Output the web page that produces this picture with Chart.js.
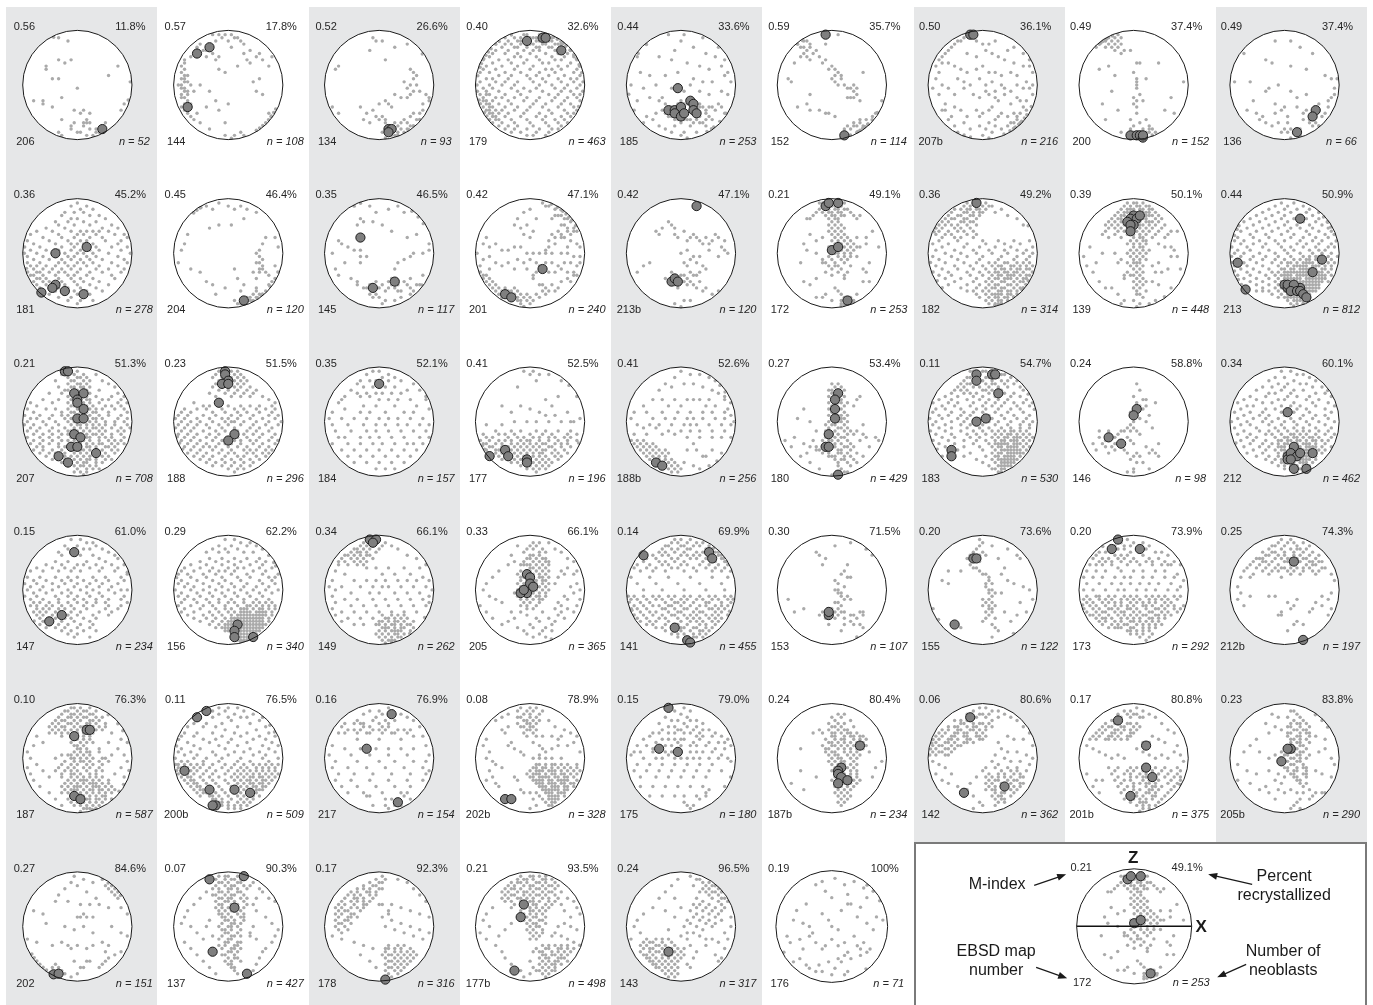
<!DOCTYPE html>
<html>
<head>
<meta charset="utf-8">
<title>Neoblast c-axis stereonets</title>
<script src="https://cdn.jsdelivr.net/npm/chart.js@4.4.1/dist/chart.umd.min.js"></script>
<style>
    body { margin: 0; background: #fff; }
    #page { position: relative; width: 1373px; height: 1005px; overflow: hidden; background: #fff; }
    .stripe { position: absolute; top: 7px; bottom: 0; width: 151px; background: #e6e7e8; }
    #legend-box { position: absolute; left: 914px; top: 842px; width: 453px; height: 175px; border: 2px solid #7a7a7a; background: #fff; box-sizing: border-box; }
    canvas { position: absolute; }
</style>
</head>
<body>
<div id="page"><div id="legend-box"></div></div>
<script>
// EBSD map number, M-index, percent recrystallized and neoblast count, in reading order
const mapNumbers = ["206", "144", "134", "179", "185", "152", "207b", "200", "136",
    "181", "204", "145", "201", "213b", "172", "182", "139", "213",
    "207", "188", "184", "177", "188b", "180", "183", "146", "212",
    "147", "156", "149", "205", "141", "153", "155", "173", "212b",
    "187", "200b", "217", "202b", "175", "187b", "142", "201b", "205b",
    "202", "137", "178", "177b", "143", "176"];
const mIndex = [0.56, 0.57, 0.52, 0.40, 0.44, 0.59, 0.50, 0.49, 0.49,
    0.36, 0.45, 0.35, 0.42, 0.42, 0.21, 0.36, 0.39, 0.44,
    0.21, 0.23, 0.35, 0.41, 0.41, 0.27, 0.11, 0.24, 0.34,
    0.15, 0.29, 0.34, 0.33, 0.14, 0.30, 0.20, 0.20, 0.25,
    0.10, 0.11, 0.16, 0.08, 0.15, 0.24, 0.06, 0.17, 0.23,
    0.27, 0.07, 0.17, 0.21, 0.24, 0.19];
const percentRecryst = [11.8, 17.8, 26.6, 32.6, 33.6, 35.7, 36.1, 37.4, 37.4,
    45.2, 46.4, 46.5, 47.1, 47.1, 49.1, 49.2, 50.1, 50.9,
    51.3, 51.5, 52.1, 52.5, 52.6, 53.4, 54.7, 58.8, 60.1,
    61.0, 62.2, 66.1, 66.1, 69.9, 71.5, 73.6, 73.9, 74.3,
    76.3, 76.5, 76.9, 78.9, 79.0, 80.4, 80.6, 80.8, 83.8,
    84.6, 90.3, 92.3, 93.5, 96.5, 100];
const neoblasts = [52, 108, 93, 463, 253, 114, 216, 152, 66,
    278, 120, 117, 240, 120, 253, 314, 448, 812,
    708, 296, 157, 196, 256, 429, 530, 98, 462,
    234, 340, 262, 365, 455, 107, 122, 292, 197,
    587, 509, 154, 328, 180, 234, 362, 375, 290,
    151, 427, 316, 498, 317, 71];

// point positions: two base-36 digits per point (x then y, 0 = left/top rim, h = centre)
const grayPoints = [
    "91 b2 e3 7b 7c b9 da f9 ub re 9f bf yg hi cl 3m 6m 6n 9o wn ym vp gp iq jp lq cs gt ks lt kt fu fv iw ju lv mx nv nw ow qt bw cx kx hw jt",
    "c1 e1 g1 i1 j2 f2 h3 k2 l3 d3 m4 i5 75 84 96 a6 67 58 a8 c7 d9 e8 m7 o6 n9 q8 r7 s9 oa kb ec gd 39 3a 2b 3c 2d 3e 4e 2f 3g 4g 1h 2h 3i 2i 4j 3j 2k 4k 3l 2l 4m 3n 5n 2o 3p 4q 5r 6s 3f 5h 6j 8h bj dm ao ep 7q 8t bv gt hn xp wq vr ws uu tv sw rx uq vt jx lw mx gx iy rf pg qj sk v8 ub",
    "f2 g3 i3 e6 j9 m5 q4 v7 4b 3c rc sd te sf pg rh th qi sj uj rk ol ql mk wk xl vn xm jm lo kn hn fp bo dq cs et gr hs ir js jt ku mt nu ot ps qt ru su mv nw ov pw qv rw nx mx jv iw lx jy sq rr ts uq vp us 2o 4q",
    "b1 f1 g1 k1 l1 p1 92 c2 e2 h2 i2 m2 o2 q2 t2 73 a3 d3 f3 j3 k3 n3 r3 s3 u3 64 94 b4 e4 h4 l4 m4 p4 q4 t4 w4 45 85 c5 d5 g5 j5 n5 o5 s5 v5 36 66 a6 f6 i6 k6 p6 r6 u6 x6 27 57 97 d7 h7 m7 q7 t7 w7 18 48 c8 e8 j8 o8 s8 v8 x8 29 79 a9 g9 k9 p9 r9 w9 1a 5a ba fa la na ua ya 0b 3b 8b db ib qb tb xb 2c 6c cc hc mc oc rc wc 1d 4d 9d ed kd pd vd yd 0e 7e be ge je ne se xe 3f 5f af hf lf qf uf wf 1g 6g 9g dg ig mg rg vg yg 0h 4h 8h ch kh oh th xh 2i 5i bi fi ji pi si wi 0j 3j 7j dj hj lj rj uj yj 1k 4k 9k ek nk qk vk xk 2l 6l 8l cl gl kl pl tl wl 0m 3m 5m am fm jm om sm xm 1n 4n 7n bn in mn rn un 2o 5o 9o do ho lo qo vo xo 3p 6p 8p cp gp np sp wp 2q 4q 7q aq fq kq oq tq vq 3r 5r 9r er jr mr rr ur 4s 6s bs gs ls ps ss 5t 8t ct ht mt qt tt 7u au du iu nu ru 9v cv gv kv ov qv bw ew jw nw gx ix mx e3 g2 j2 l3 n2 i4 k5 o3 r4 3k 2m 4o 3n 5q 6r 4p 7s",
    "d1 i1 h3 o2 t5 53 26 38 f6 l5 p7 s8 v9 a8 e9 ja nb qc ub wd 4d 7e ce gd lf og rg ve xg 1h 5i 9h ei ij kh nj qk uj wk 0k 3m 7l bl am cn eo gn hm jn in ko mo nn oo pp qo ro sp tn uo vq bp cq dr er gs is js ks mr nr ps qr rs fs ht lt nt ot 9q 8s 6r au cv fu ku pu sv ew iw mw qx hx ty xr vu 4u 2p jy lo ip hq kp ms no pq",
    "72 83 93 a4 64 75 85 96 a5 c6 b7 87 98 78 a9 5a d8 f9 ea hb ic gc jd ie ke hf ig kf lh mi jh ni oj oh pk nl ml qm ol pi rd 3f 4g ak 9n 6o ap fq ir ur vq sv tu qt ru pu nv ou ot pw qx rv sw tw uv vw rx mu lv nx qs ss vt ky ly f4 j1 gq dp wq xm",
    "b2 a3 93 84 75 66 57 48 39 4a 6a 2b 3d 2f 4h 1i 3k 5n 4p 7r 6s 8u 9w bx dy f3 h4 j4 l3 p6 r5 u7 w9 i6 k7 f8 c7 m8 o9 ra ub wb xd 8b ac cd fc hb jd ld ne qd se vg xh 9f bg dh gf ih kg lj nh oi qj sh ui wi xk 6i 8k bi ek gl ij jk ll mm ok qn sl tm vm xo 5p 8o ap cr fp gr hq jp ko ls mr nq pr rq ss tq uo wr vp bt dv gu iv jt lu nv pu qw rt sv tu uu vs tx rv qt sr ut ox kw hx jy",
    "82 92 a1 b2 c1 d2 72 63 73 83 a3 b4 c3 94 85 a5 b6 c5 d4 64 55 e6 g6 d7 ia 9b 6c hd be lf if ig ih ii jk hl im km hn io 7n aj cp rp tl uq xg pa ja 8s hu iq ls lw mu kv jw lx mw nx ow hw iw kw gv mv nv jt gs dw",
    "e3 j3 m5 q7 47 b9 da jb oc ue wf 1g 6g fh ok ir ll jj 5p 8q 9s bt du ft hv it jv kw mx ns pt rt qu su tr uq vo wl xi yf xk vm sn bj ci eq gp 7m ar en ho lo nq ps op gw iw jy mv",
    "h1 k2 f2 i3 m3 d4 g4 j4 o5 c5 l5 q6 f6 h6 n7 a7 e7 j7 s8 b8 g8 l8 p9 u9 79 d9 ia ma ra 4a 9a fa ka oa wb 2b bb hb jb nb tb 6c cc gc lc pc xc 1d 8d ed id kd qd vd 3e ae fe he je me ue 0f 5f cf gf kf nf sf xf 2g 7g bg fg ig lg og vg 0h 4h 9h dh hh jh mh rh yh 1i 6i ai ei gi ki ni ui 3j 8j cj fj ij lj pj wj 1k 5k bk dk hk jk mk sk xk 2l 4l 7l al el gl kl ol ul 0m 3m 6m 9m cm fm im nm rm wm 1n 4n 5n 8n bn dn hn ln pn vn 2o 3o 6o ao eo go ko so 4p 5p 7p bp fp ip mp tp 3q 6q 8q cq gq jq oq 4r 7r 9r dr hr lr rr 5s 8s bs es is ns 6t at ct gt kt pt 8u du hu lu bv fv jv ew iw mw hx",
    "42 53 62 71 82 a2 c3 e1 h2 j3 l2 n3 q4 m6 i8 e8 b9 4b 3e 2g 1k 5m 8n aq cr gs du jm kp mr lt nv ov pu qt qs ru su tt ur vs uo vq wp xn wl tn sm rm sl rk qk ri qh rg se tc wc xf sj pn rn qp nw lx kx jw pw ow px qv rw sv",
    "92 b1 e2 g4 k3 n2 p4 s3 u5 w7 b6 c7 a8 f7 i8 la qc tb xe 4d 5e 2h 7f 9g bg bi di bk 6k 3m 4o 8p aq ar cs ds er fr gq hs ir jt ks kq lp lr ms nr nt ot pq qr rp rs st tr ur vo ws hv jw ix mw ov ru gu eu fv mm nk pj ri sh vh xg",
    "l1 m2 n2 o1 p3 q2 r3 s3 t4 q5 r5 s6 t6 u7 v6 u5 p5 o6 r8 s8 t9 v9 w8 wa va ub ta rb sc qa ob pe ud we xf tf rc pc nd mg nf h3 f4 d6 c8 j6 g8 e9 ia fb hc 3c 2e 4f 6e 8g ag cf ef gh ih kh mh oh rh th vi xi xk 2j 4i 0h 6k ak dj fk hj jk mk ok ql sk uk wl 1l 4m 8l cm gm io jn kl nn pn rm tn vn wo 1n 2o 3o 2p 3q 4p 5q 4r 5s 6r 6t 7s 8t 7u 8v 9s at au bt cu cs dt dv eu ew fv gw hv gu dw ex fy hx iw ju kv lt mu nt kr lr ms or pt qs rq tp uq vo ip",
    "9a ab b9 d7 e8 f9 fb gc ia jd kc lb mc nd oe pc qe rd sb tc uf vd vg wh ti qg ni jg hh li mk kj jl ik ol pm nn lo kn mo jp io ho en dq cp ep fr gs hq iq jr kq lr nq ms ps ru uu 5l 7k 3n iw fx hy kw ot",
    "d1 e1 h1 i2 k1 l1 e2 h2 k2 d3 f3 g3 i3 j3 l3 e4 g4 h4 j4 k4 m3 f5 h5 i5 k5 g6 i6 j6 l5 c4 b5 a6 96 n4 o5 p6 q5 h7 j7 g8 i8 k8 h9 j9 l9 ga ia ka hb jb lb ic kc mc hd jd ld nd ie ke me oe gf if lf nf pf kg mg og ih jh lh nh gi ji li ni hj kj mj ik lk fk gl jl nl il hm km ec cd 8e ab 9g ch 7k ek fn jn mn rm tk sn qf se pc sc ua wf pi ej lo lp 8q ar cp rq tq ho is jt fu hw cv ev ox pu kx lw lx nw nx mx ow ly ky mv kw lv nv ku",
    "c1 e1 g1 i1 b2 d2 f2 h2 j2 a3 c3 d3 f3 g3 i3 83 b4 c4 e4 g4 h4 74 65 95 a5 d5 e5 g5 56 76 86 b6 c6 f6 47 67 a7 b7 d7 e7 38 58 78 98 c8 f8 29 49 89 a9 d9 1a 3a 6a 9a ba ea 2b 5b 7b cb fb 4c 8c ac ec k2 l4 n3 p5 s6 u8 w8 3d 9d hd md rd wd 1e 6e ce ie oe te xf 4f bf gf lf qf vg 2g 8g eg jg og sg xh 5h ah fh kh ph uh 1i 7i ci hi ni si wi 3j 9j gj mj rj vj 0k 5k bk fk jk lk ok pk sk uk wk 2l 8l dl hl kl ml nl ql rl tl vl xl 4m 9m em im lm nm om qm sm tm vm wm 1n 6n cn gn jn ln mn on pn rn sn un xn 3o 7o do ho ko mo no po qo ro to vo wo 5p ap fp jp lp mp op pp qp sp up vp 2q 8q eq iq kq nq oq rq tq uq wq 6r cr gr jr lr mr pr qr sr vr 4s as fs is ks ls ns os rs ts us ct et ht jt mt nt pt qt st ut fu iu ku lu mu nu pu qu su gv jv lv mv ov pv rv iw kw mw nw pw jx lx nx mx ly",
    "f1 h1 i1 k1 e2 g2 i2 j2 l2 m2 d3 f3 g3 h3 j3 k3 m3 n3 c4 e4 f4 g4 i4 k4 l4 m4 o4 b5 d5 e5 g5 i5 k5 l5 m5 n5 p5 a6 c6 d6 f6 h6 j6 k6 l6 o6 q6 97 b7 d7 e7 g7 i7 j7 l7 m7 n7 p7 88 a8 c8 e8 f8 i8 j8 k8 m8 o8 r8 99 b9 d9 f9 h9 j9 l9 n9 q9 8a ca ea ga ia ka ma pa ta 7b bb fb hb jb lb ob sb va 9c dc hc jc kc nc gd id kd ld fe he je le hf jf kf gg ig kg mg fh hh jh lh gi ii ki hj jj lj fk hk jk ik gl il kl hm jm fn in kn ho jo go ip kp hq jq lq ir kr hs js it lt ju iu kv hw jx iy 3f 1i 5k 7h bh dj ck 4n 6q 8s as cu eo ep 2l rf ug vi ti pk nl sm wm qn on nq pr ts rv ow mx ew dx pe rc tf",
    "g1 k1 e2 i2 n2 c3 h3 l3 p3 a4 f4 j4 o4 s4 85 d5 h5 m5 q5 u5 66 b6 g6 k6 o6 s6 w6 47 97 e7 i7 n7 r7 v7 28 78 c8 h8 l8 p8 t8 x8 19 59 a9 f9 j9 m9 q9 v9 3a 8a da ia oa sa wa 0b 6b bb gb kb pb ub xb 2c 7c cc jc nc rc vc 1d 4d 9d ed hd md qd td yd 3e 7e be fe le oe se we 0f 5f af gf jf nf rf vf xf 2g 6g cg hg kg pg sg ug 1h 4h 9h eh ih mh qh th wh 0i 3i 7i bi fi ji ni pi ri si vi yi 2j 6j aj ej hj kj mj oj pj rj sj tj wj 0k 4k 8k dk gk ik jk lk nk ok pk qk sk tk vk xk 1l 5l al fl il kl ll ml nl ol ql rl sl ul wl 3m 7m cm gm hm jm km mm nm om pm qm rm tm um wm 0n 5n 9n dn fn hn in jn kn ln mn nn on pn qn rn sn tn vn 2o 6o bo eo go ho io jo lo mo no oo po qo ro so to uo wo 4p 8p cp fp hp ip jp kp lp mp op pp qp rp sp tp up 1q 6q aq eq gq iq jq kq lq mq nq oq pq qq rq sq tq vq 3r 8r cr fr hr jr kr lr mr nr or pr qr rr sr 5s as es gs is js ks ls ms ns os ps qs rs ss 8t ct ft ht jt kt lt mt nt ot pt qt rt at du gu iu ju ku lu mu nu ou pu fv hv iv jv kv lv mv nv ov pv iw kw lw mw nw ow jx lx nx ky",
    "f1 h1 g2 j2 e3 h3 i3 k3 f4 g4 j4 l4 e5 h5 i5 k5 f6 g6 i6 j6 l6 e7 h7 j7 k7 f8 g8 i8 l8 e9 h9 j9 k9 fa ga ia ka la eb hb jb lb fc gc ic kc mc ed hd id jd ld fe ge ie ke me ef hf jf lf fg gg ig kg mg eh gh ih jh lh fi hi ii ki mi dj gj ij kj mj ek fk hk jk lk el gl il kl ml fm hm im km lm en gn in jn ln fo go io ko mo ep hp ip kp lp fq gq iq jq lq gr ir kr mr fs hs js ls gt it kt lt hu ju ku iv jv kw ix c2 n2 a4 p4 r5 b6 t6 d7 o7 u8 88 c8 n9 s9 w9 6a ba pa ra va 2b 9b ob ub xb 4c qc sc vc 1d 7d ad nd pd td wd 3e ce ne re xe 0f 5f 9f cf of rf vf 2g 4g 8g dg ng pg ug xg 1h 6h ah nh qh th wh 0i 3i 7i bi oi qi ti xi 2j 5j 9j nj pj sj vj yj 1k 4k 8k bk ok qk uk wk 3l 6l 9l cl nl pl sl vl 1m 5m 8m bm om qm sm wm 3n 6n 9n cn on rn tn vn 2o 5o 8o bo oo po so uo wo 4p 6p bp dp np qp rp tp 3q 6q 9q cq nq pq sq uq 5r 8r ar dr or qr tr 7s bs ds ns ps rs 9t dt et nt qt st cu fu nu pu ev gv lv nv hw mw ow gx kx jy",
    "e1 i1 k1 d2 h2 j2 l2 c3 f3 i3 k3 m3 e4 h4 j4 l4 n4 d5 g5 i5 k5 m5 c6 f6 j6 l6 o6 e7 h7 k7 n7 q7 b8 g8 j8 m8 p8 d9 i9 l9 o9 s9 ua wb 6b 9c bc ec hc lc oc rc vc 3d 7d ad fd jd md qd td wd 2e 5e ce ge ke ne re ve 1f 4f 9f df if lf pf uf xf 0g 3g 7g bg fg hg kg og sg wg 2h 5h 8h ch gh ih jh mh qh uh yh 1i 4i 7i ai ei hi li pi ti xi 0j 3j 6j bj fj jj oj rj vj 2k 5k 9k dk gk kk nk qk uk 1l 4l 7l bl el il ml pl sl wl 0m 3m 6m am dm hm km nm rm vm 2n 5n 8n cn fn jn ln on qn un xn 1o 4o 7o ao eo go io lo po so wo 3p 6p 9p bp dp hp kp np rp up 2q 5q 8q cq fq iq mq oq qq tq vq 4r 7r ar er hr jr nr pr sr ur 6s 9s cs gs ks ms qs ts 8t bt ft it lt ot rt au du gu ju mu pu cv fv iv lv ov hw kw mw jx",
    "f1 h1 k2 d2 i3 m3 b4 e4 g4 k4 o4 s5 a5 c6 f6 h6 j6 m6 q7 u7 87 a8 d8 g8 i8 l8 o8 w9 69 b9 e9 ka na ra 5a ha wa 4b cc gc mc tc xd 2e 6d be ee je pe se 1g 5g 9g dg hg kg ng rg vg 2i 7i ci gi ji ni qi ui xi 3k 8k dk gk kk ok sk wk 4m 6m bm em hm lm pm um xm 2o 7o bo fo io mo qo so vo 5q 9q dq hq lq pq tq 7s bs fs js ns rs 9u du hu lu pu gw jw mw",
    "f1 i1 k2 n2 h2 j4 r4 u5 q9 ma oc te w9 d6 8c be ec hd ke mf pf xg vh 3i 8i ch gh jh nh rh uh 6k bk ek jk mk qk uk 2l 7l 9l cl hl ll ol tl wl 3m 5m am dm fm im km nm pm sm um 1n 4n 7n 9n bn en gn hn kn nn qn tn wn 2o 3o 6o 8o bo do fo ho jo lo mo po ro to xo 1p 4p 5p 8p ap cp ep gp ip kp np op rp up 2q 3q 6q 7q 9q bq dq fq hq jq lq mq pq sq 3r 4r 6r 8r ar cr er gr ir kr lr or qr tr 5s 7s 9s bs ds fs gs is ks ms ps rs 8t at ct et gt ht jt lt nt qt bu du fu gu iu ku mu ou ev hv jv lv nv gw iw kw mw jx",
    "h1 k2 n2 q3 s4 u5 w7 f3 c5 a7 e6 i5 l5 o6 r7 t8 v9 8a ba fa ja la na qa va xb 5c dc hc pc sc wd 2e 6e be ge ke oe re ve xf 1g 8g cg fg jg lg og sg vg yh 3i 7i ai ei ii ki mi qi ui xi 5j 9j dk hk kk nk rk vk 2l 6l bl fl jm nm rm um xm 1n 3n 5n 2o 4o 6o 8o 3p 5p 7p 9p 4q 6q 8q aq cq 5r 7r 9r br dr 6s 8s as cs 7t at ct et 8u bu du fu cv ev gv dw fw hw ex gx jq lo mq os ps rq ur tu qv lv iu nw",
    "h5 j5 i6 k6 g7 h7 j7 l7 h8 i8 k8 g9 j9 l9 ha ia ka gb jb kb hc ic lc gd jd kd he ie le gf jf kf mf hg ig kg lg gh jh kh mh fi hi ii li gj jj kj mj fk gk ik lk gl hl jl ml fm im km lm en gn hn jn mn fo go io ko no ep hp ip lp mp fq gq jq kq nq gr jr kr mr hs is ls ns it kt lt ju mu jv kw gs er dq cp bn ap 9r 8o cq 8d 6g ah ck 5m 2n 4p 7s au dw mb oc pa q9 ri pk rl ol qn sm vm wn tp op pr rs ot pu nv mx hy ky lx nk",
    "d1 e1 h1 i1 l1 f2 g2 j2 k2 n2 o2 c3 d3 f3 i3 j3 l3 m3 q3 b4 e4 g4 h4 k4 n4 p4 s4 a5 c5 d5 f5 i5 k5 l5 o5 r5 96 b6 e6 g6 j6 m6 p6 t6 87 a7 c7 h7 i7 k7 n7 u7 78 b8 d8 f8 j8 o8 r8 w8 59 99 e9 h9 l9 q9 t9 3a 7a ca ga ja ma pa va 1b 6b 9b eb ib lb ob rb ub xb 4c 8c dc hc kc nc sc wc 2d 5d ad fd id md qd td yd 1e 7e be ee he le pe ue 3f 6f af df jf nf rf wf 0g 4g 9g cg gg kg og sg vg 2h 7h bh fh jh mh qh uh xh 1i 5i ai di hi li pi ti wi 3j 7j cj gj jj nj qj tj wj 0k 5k ak ek hk kk mk ok qk rk tk vk 2l 7l cl fl il ll nl pl ql sl ul wl 4m 8m dm gm km mm om pm rm sm tm vm xm 1n 6n bn fn in ln nn on qn rn sn un wn 3o 8o eo jo lo mo no oo po ro so to vo 5p bp gp kp mp np pp qp rp sp up wp 2q 9q hq lq nq oq pq qq rq sq tq vq 6r dr kr mr nr pr qr rr sr tr ur 4s bs is ls ms os ps qs rs ts ft kt mt nt ot pt qt rt st hu lu nu ou pu qu ru jv mv nv ov pv qv kw lw nw ow mx nx",
    "i5 j7 h9 ka ib jc kd lc ie ge if jg hh gi hj fj gk ik jl ek fm gn ho dk cl bm 8n 6m 7o ap bo co dp eq fr bq 8p 9r js ku hs gt ir lp mr nq or po ps lh nj mf ob la 9k 4o 5q 6k fx hw hx iu mw",
    "g1 j1 l2 n2 e3 h3 p3 c4 k4 r4 f5 i5 m5 o5 a6 d6 h6 q6 t6 87 g7 k7 n7 v7 c8 e8 j8 r8 u8 69 b9 i9 l9 p9 w9 4a 8a fa ha oa sa 2b ab db kb qb vb 5c 7c gc jc mc rc xc 3d bd ed ld od ud 1e 6e ae ge ke pe we 4f 9f cf hf nf rf uf 2g 7g bg fg jg mg qg vg 0h 5h ah dh hh kh oh sh xh 3i 6i ci gi li pi ui 1j 8j ej hj kj nj rj wj 4k 9k ck fk ik lk nk pk sk vk 2l 6l bl dl gl jl kl ml ol rl ul xl 5m 8m em hm im km lm nm pm qm sm wm 3n 7n bn fn gn in jn ln mn on qn rn tn vn 1o 6o ao do fo ho io ko lo no oo po ro uo 4p 9p cp fp gp hp jp lp mp op pp qp rp tp wp 7q bq eq gq hq jq kq lq nq oq pq rq sq uq 5r ar fr hr jr kr lr nr or pr qr tr 8s cs fs hs is js ks ms ns os ps rs bt et gt ht it kt lt mt nt ot pt rt du gu hu iu ku mu nu ou qu fv hv jv lv nv ov pv hw jw lw mw ow kx lx nx",
    "f1 i1 k2 m2 d3 h3 n3 p4 e4 j4 l4 r5 b5 g5 t6 c6 i6 m6 o7 u7 a8 e8 k8 q8 w9 79 c9 h9 j9 n9 s9 4a 9a da ga la pa ua yb 2b 6b bb fb ib ob tb xc 1d 5d ad ed hd md qd vd 3e 7e ce fe je ne re we 0f 4f 9f df hf lf pf uf 2g 6g bg gg kg og sg xh 1h 5h 9h eh ih mh rh vh 3i 7i ci fi ki oi ti 0j 4j aj ej hj lj pj wj 2k 6k bk gk jk nk rk vk 3l 5l 8l bl el hl kl nl ql xl 2m 4m 7m 9m cm fm jm mm rm vm 4n 6n 8n bn dn gn kn qn un 3o 5o 7o ao co fo io oo so 4p 6p 9p bp ep hp mp rp 5q 8q aq dq fq jq nq 3r 6r 9r cr gr lr 5s 8s bs es is ms 7t at dt ht lt cu fu ju nu ev hv gw lw",
    "g1 j1 l2 o2 e3 i3 n3 q3 c4 g4 k4 s4 a5 e5 h5 m5 p5 u6 b7 f7 j7 n7 r7 w8 88 d8 h8 l8 q8 t8 x9 59 a9 f9 j9 o9 s9 3a 8a ca ha ka ma ra va 2b 6b bb eb gb jb pb tb xc 1c 4c 9c dc ic nc sc wd 0d 5d ad fd kd od ud 2e 7e ce ge le re ve 1f 4f 9f ef if nf sf wf 3g 6g bg fg jg mg qg ug 0h 5h 9h dh hh lh ph th xh 2i 7i bi fi ji ni ri vi 1j 4j 8j cj gj kj oj sj 3k 6k ak ek ik mk qk uk 2l 7l bl el hl jl ml pl rl tl vl 1m 5m 9m cm gm km nm om qm sm um wm 3n 8n dn gn in ln mn nn pn rn sn un wn 2o 6o bo eo ho jo lo mo no oo qo ro so to vo 4p 9p cp fp ip kp lp mp np op pp qp rp sp tp vp 6q aq dq gq iq jq kq lq mq nq oq pq qq rq sq uq 8r cr fr hr ir jr kr lr mr nr or pr qr rr sr ur bs es gs hs is js ks ls ms ns os ps qs rs ss ts dt ft gt ht it jt kt lt mt nt ot pt qt rt st gu hu iu ju ku lu mu nu ou pu qu ru iv jv kv lv mv nv ov pv qv jw kw lw mw nw ow pw kx lx mx nx ox ly my",
    "c2 e2 g2 h1 b3 d3 f3 i3 a4 94 c4 e4 h4 85 a5 b5 d5 g5 66 76 96 b6 d6 e6 57 87 a7 c7 f7 48 68 98 b8 d8 49 79 a9 c9 j2 l3 n4 q6 t7 w9 ua pa ka ga da 3b 6c ic mc rc vd xe 2e 9e de ge je ne qe te 1g 5g bg fg ig kg og sg wg yh 3h 8i ei hi mi qi ui xj 2j 6k ak fk jk nk rk vk xl 3l 8m cm gm km om sm wm 2n 5o 9o do ho lo po to 3p 7q bq fq wq 5r 9s cs ip lp np pp jq kq mq oq qq hr ir kr mr nr pr sr gs hs js ls ms os qs rs it jt kt mt ot pt st hu ju lu mu nu ou ru gv iv kv mv nv pv hw jw lw nw ow ix kx mx lx jy ly ty",
    "i2 k2 h3 j3 l4 g4 i4 k5 m5 f5 h6 i6 k6 m7 g7 h7 j7 l7 n8 f8 i8 k8 m8 e9 g9 h9 j9 l9 n9 f9 ha ia ka ma eb gb hb jb lb nb dc fc hc ic kc mc ed fd gd id kd ld nd ee ge he ie je le me df ff hf jf lf nf eg fg hg jg kg mg dh gh ih jh lh nh ci fi gi ii ki mi dj ej hj jj kj mj ek gk ik kk lk fl hl kl em gm jm gn in d3 n2 p4 r5 t7 v8 b6 c8 a9 7b 5d 3f 2h 4j 6k 8l 1m 3o 5q 8s ar bo cq eo gp hs it jq kr lo mt nq os pr qp ro sq tn vo wm xk vi tk rm pn ql sj ug wf xh rb qd pf ta vc sc wb ox gv iw kv mw ou dt fu lu",
    "f1 h1 k1 e2 g2 j2 m2 o2 c3 d3 h3 i3 l3 n3 q3 s3 b4 e4 g4 j4 k4 p4 r4 u4 a5 c5 f5 i5 m5 o5 s5 v5 86 b6 d6 h6 j6 l6 n6 q6 t6 w6 67 97 e7 g7 k7 m7 p7 r7 u7 x7 58 a8 c8 f8 i8 o8 s8 v8 39 79 b9 d9 h9 j9 n9 q9 t9 w9 2a 6a 9a ea ga la pa sa va 4b 8b cb ib mb rb ub xb 1d 7d dd kd rd wd 3f 9f gf nf uf 5h bh ih ph vh 0j 2j 5j 8j aj dj fj ij kj nj qj sj vj xj 1k 3k 6k 9k bk ek hk jk mk ok rk tk wk yk 0l 4l 7l cl fl gl il ll pl ql ul xl 2m 5m 8m am dm em hm km nm pm sm um wm 1n 3n 6n bn cn fn in jn mn qn rn tn vn 0o 4o 7o 9o do go ho lo no oo so uo xo 2p 5p 8p bp ep fp ip kp mp pp rp tp wp 3q 6q aq cq gq jq lq nq qq sq uq 4r 7r 9r dr hr kr mr or rr tr 6s 8s cs fs gs js ns ps ss 9t bt et ht it lt mt pt rt cu fu hu ku nu ou qu ev gv iv lv nv pv gw jw lw mw ow ix kx",
    "c5 d6 e9 f7 i3 n2 s4 v5 md m9 lb kc ie jf lg ki ji ih kj lk mj nk jl km il hn jn lo ko io ho gn fo eo dp fq hp iq jp lq np op qo rp ro pq nr os qs rt ls gs 8n 3k 5o ku pw nd jh",
    "g1 h2 g3 f4 e5 h5 d6 g6 i6 c7 g8 d9 fa ea gb hc 6b 4e 6f ic jd je kf if ig jh kh li ji kj hk jk kl il hm jm lm kn io jn ko jp lq iq hr ks at 2r lt mu kw rv qr sp vo tl xk wh ug rf pe nc p4 s6 m7 t7 k3 oa ab 1n ni oo",
    "d2 f1 h2 k2 m3 b3 e3 g3 i4 73 94 c4 e4 g5 j4 l4 o5 q5 s6 65 85 a5 b6 d6 f6 h7 k6 m7 p7 r8 u8 56 77 97 c7 e7 g8 i8 l8 n8 q9 t9 47 68 88 a8 d8 f9 j9 n9 s9 w9 39 59 79 a9 ca 2b 5b 8b db hb kb ob rb vc 1d 4d 7d bd ed gd kd nd rd ud xe 2f 6f af df gf jf mf pf tf wg 1h 4h 8h ch eh ih lh oh sh vh 2j 5j 6j 9j bj ej gj ij lj nj pj rj uj wj 1k 3k 6k 8k ak dk fk hk jk mk ok qk sk vk 2l 4l 7l 9l bl dl gl il kl ml ol rl tl 0m 3m 5m 8m bm dm fm hm km lm nm qm sm um xm 1n 4n 6n 9n an cn fn gn in ln on pn rn un wn 2o 5o 7o 8o bo do eo ho jo mo no qo so vo 3p 4p 6p 9p cp ep gp ip kp lp op pp rp tp 5q 7q 8q aq dq fq hq jq mq nq pq rq 6r 8r br dr gr hr jr lr nr pr 7s as cs es fs is ks ms os qs 9t bt dt gt ht kt mt ot ct fu gu iu ku mu gv iv kv nv jw mw lx",
    "f2 g1 j1 k2 n2 p3 d3 c4 e3 h3 i2 l3 m4 o4 q5 s6 a5 b6 d5 e5 g4 h5 j4 k5 l4 n5 p6 r7 t8 87 97 a7 c6 e7 f6 h6 i7 k6 m6 o7 q8 s8 78 a8 b8 d8 g7 i8 j7 l7 n7 p8 r9 69 99 c9 f9 h8 j9 m8 o9 q9 ua 5a 8a ba ea ga ha ja la na pa ta 4b 7c ab db fb ib kb nb qb sb 3d 6d cc gd jc mc rc wc xe 2g 3i 6j 2k cj ej 4m lk il jn km fp gp go po qn rl tm wn vp lr ns ks iu tj wi vk",
    "f1 g1 i1 l1 d2 e2 h2 j2 k2 n2 c3 f3 g3 i3 l3 m3 b4 e4 f4 h4 j4 k4 n4 p4 a5 c5 d5 g5 i5 l5 m5 o5 96 b6 e6 f6 h6 k6 l6 n6 q6 87 a7 c7 d7 g7 i7 j7 m7 o7 98 b8 d8 f8 h8 k8 n8 p8 89 a9 c9 e9 h9 j9 m9 ca fa ja la r3 u6 w8 s9 q7 vb xc 6c 3d 4a gb hb jb lb fc ic kc mc gd hd jd he ie ke gf if kf lf fg hg jg lg fh gh ih kh mh di gi ii ji li oi cj fj hj kj mj pj bk ek gk jk lk ok al dl fl hl kl nl pl cm fm gm im lm nm 1f 2h 4j 6l 8n ah cg eg of qh sg ue wg xi vk tm ri ph oe rc cn fn hn jn ln nn pn eo go io jo ko mo oo ro dp fp hp jp lp mp np pp rp cq eq gq hq iq kq mq nq oq qq sq dr fr gr hr jr lr mr or pr rr tr cs es gs is ks ms os qs ss ft ht it jt lt nt pt qt su eu gu iu ku lu nu ou qu fv hv jv lv nv pv gw iw kw mw ow jx lx nx kx iy my 3o 5q 8s au cw 2m 1k wn yl xq vs",
    "e1 h1 k1 c2 g2 m2 p3 a3 e3 j3 n4 s4 84 c4 h4 l4 r5 v6 66 a6 f6 i5 o6 t7 47 97 d7 g8 k7 q8 x8 39 79 c9 j9 n9 u9 2a 6a fa la ra wa 1b 9b db ib pb tb 4c bc hc nc vc 0d 6d ed kd sd xd 2e 8e ge oe ue 1f 5f cf jf mf rf wf 3g 7g dg hg pg tg 0h 6h ah fh lh sh xh 2i 4i 9i ei ki oi ui 0j 1j 3j 5j 7j 9j cj gj jj mj pj rj tj vj xj 1k 2k 4k 6k 8k bk fk ik lk nk qk sk uk wk 0l 2l 3l 5l 7l al dl hl kl ml ol ql sl ul wl 1m 3m 4m 6m 9m cm gm jm lm nm pm rm tm vm xm 2n 4n 5n 8n bn en in kn mn on pn rn sn un wn 3o 5o 6o 9o co go jo lo no oo qo so to vo 4p 6p 7p ap dp hp kp mp op pp rp sp up 5q 7q 8q bq eq iq lq nq pq qq sq tq 6r 8r 9r cr fr jr mr or qr rr sr 7s 9s as ds gs js ls ns ps qs 8t bt ct et ht kt mt ot pt rt cu du fu iu lu nu pu ev fv hv kv mv ov fw hw jw lw nw hx jx lx",
    "c3 e2 h2 i3 k1 o3 q4 s5 u7 a5 c6 f5 g4 j5 k6 m5 66 96 b6 c7 e7 h6 i7 k7 57 78 98 b8 d9 f8 h8 j8 l9 n8 p8 r8 49 69 a9 e9 i9 m9 q9 sa va ab hb ob wd 2d 6e be ge ke oe se 1g 8g eg kg qg xg 3i ai hi mi si wi 2k 7k dk jk pk vk xl 4m 9m fm lm rm wm 3o 8o eo ko qo vo 5q aq gq mq rq 7s cs is os dt et ju lu pt qs ru fw jw mw kx ow",
    "e1 h1 j1 d2 g2 i2 l2 f3 h3 k3 d4 e4 h4 j4 f5 g5 i5 k5 d6 g6 h6 j6 e7 f7 h7 i7 g8 h8 j8 f9 i9 ga ja a3 84 65 a7 88 99 n5 p7 s8 u9 wa qb ra la oa 3b 2d 4f 3h 5i 6j 8k bc ad ce ef fg ic kd le kg mf oe qd td vc xf ih kh mh oh rh jj kj mj oj pj rj tj wj ik jk lk mk ok qk sk uk wk hl jl kl ll nl ol pl rl tl vl xl gm im jm km mm om pm rm sm um wm hn in kn ln mn nn pn qn sn tn vn io jo ko lo no oo qo ro so to wo jp kp lp np op pp rp sp up vp kq lq mq oq pq qq sq tq vq lr mr nr or pr qr sr tr ms ns os qs rs ss nt ot pt qt st nu ou pu qu ov pv nw ow 4l 5n 6p 7q 3o cn do er fs hs js kt lu mv jw hx iu",
    "f2 h3 i1 j4 k2 m5 o6 q8 s9 c4 a6 e5 g5 i6 k5 m7 d7 f7 h8 j7 l8 n9 o8 b8 89 a9 d9 f9 g8 i9 k9 ma oa ra ua wb xd 5b 7a 9c bb db fb hb ib lc nb qc tc vc 3d 6d 8e cd ed gc hd kd md pd se ve 2f 4f 8f cf ef hf kf mf of rf ug 1g 5h 9h bh dg fh hh jh lh nh qh th wh 3j 7j bj fj jj nj rj xi 2l 6l al el il ml ql ul 4n 9n dn hn ln pn 4q 8q cq gq kq oq 7t bt ft it mt pt iv jw kx lw nu ps qr vq xn",
    "j3 l3 h4 k4 n5 i5 g6 j6 l6 o7 h7 i7 k7 m8 d8 g8 j8 l8 n9 p9 b9 e9 h9 i9 k9 m9 oa qa ha ia la na ra fb ib kb lb ob qb sb gc hc jc lc nc pc rc ed hd id kd md od fe ge je le ne pe re ff hf if lf nf pf gg ig jg mg og qg hh jh kh nh ph gi ii ki li oi hj jj lj nj pj ik mk ok hl kl nl pl im lm nm pm in kn nn pn ho ko oo qo ip lp np pp iq kq mq oq jr lr nr is ks ms jt lt nt ku mu jv lv kw 7l 4p 8r cn xi vk un tf sd 7e",
    "e2 g1 i1 k2 m2 o3 c3 d3 g3 h3 j3 m4 a5 c5 e4 f4 i4 k5 85 a6 b6 e6 g6 h6 j6 67 87 97 c7 e7 f7 i7 k7 48 68 98 a8 d8 e8 g8 i8 39 59 89 99 b9 c9 f9 h9 2a 4a 7a 8a ba ca fa ga ia 1b 3b 6b 7b 9b cb db gb hb 0c 2c 5c 6c 8c bc cc ec 1d 3d 4d 7d 9d ad 0e 2e 5e 6e 8e 1f 3f 4f 7f 0g 2g 5g 6g q4 s5 u7 w9 pa rb ub xd mc ne pf sf vg xh lg oh qi ti wj ki mj pk sk vl 1i 3j 5k 7m 2m 4o 6p 9q cr et gv ex hw dp fn hl ik lk nl ql sl jm mm om rm tm in kn mn on qn tn un jo lo mo po ro so ip kp np op qp tp up jq lq nq oq rq tq ir kr lr or qr sr ls ns os rs kt mt nt qt lu nu ou mv ov lw",
    "e2 g2 i1 k2 m3 c3 f3 h3 i3 a5 c5 d4 g4 j4 k4 86 b6 c6 f6 g6 i6 77 97 a7 d7 e7 h7 j7 68 88 b8 c8 e8 g8 i8 59 79 a9 b9 d9 g9 h9 4a 6a 9a aa ca fa ga 3b 5b 8b 9b bb db fb o4 q6 s8 u9 na pb rc vd kc mc 2d 4e 6f 8g ah cg eh ie kf mg oh qg sh uf wg xi 9k ck gk ik mk ok rk vk bl fl hl kl nl ql tl wl am em gm jm lm pm sm vm cn gn in kn on rn un 7o bo eo go ko no po to wo dp hp jp mp op sp vp cq fq hq lq oq qq uq er hr jr nr pr tr ds gs is ms os ss ft it kt ot rt eu hu ju nu qu gv jv lv pv iw kw ow kx mx jy 4q 6s 2m 5o xq wn ln mo lp nq mr ls nt lu kv mw",
    "j2 k2 l3 m4 i4 k5 n5 o6 j6 l6 m6 p7 i7 j7 m7 o8 k8 l8 n8 p9 i9 j9 m9 o9 ia la ma pa jb kb mb ob jc lc mc pc id jd md nd he ke le oe gf jf kf mf nf hg ig lg mg pg gh jh kh mh oh hi ii li mi gj jj kj nj hk ik lk nk ok il kl ll ol jm km nm om kn ln on lo mo mp op nq pr ls qt pu d3 f4 r3 t5 v7 b6 e7 g8 c9 ra ub 8b 6d 4f 9f ch eg sf ue wh xj 2j 5l 8m cl fm hn rl tm wn 2o 6p bq fr hs jr ns rs us ts mu lv kw jx mx eu cs 9r eo gp",
    "g1 j2 m3 p2 r3 s4 t5 u6 v7 s6 t7 u8 r5 q4 f3 d5 b7 h4 k6 n8 a9 e9 ia la oa rb vb xd 3c 6d jd ie he ke me 7g dh gi jh mj sh vj xk 1l 4m 9n cm en fo hn ko mn pm rn qp tq vp 2q 3r 4s 5t 6u 7v 8w 9u at cv bu dw fx hw ks ou pt qs rr ls gs iu ju",
    "e1 g1 h1 k1 l2 d2 g2 i2 j2 e3 f3 h3 k3 l3 d4 g4 i4 j4 m4 c5 e5 h5 i5 k5 n5 e6 f6 h6 k6 l6 c7 d7 g7 i7 j7 m7 e8 f8 h8 i8 l8 n8 d9 g9 h9 j9 m9 ea fa ia ka na db fb hb jb mb ec gc ic jc lc ed fd hd kd md fe ge ie le me gf hf jf mf fg ig jg lg eh hh ih kh fi gi ii li gj hj kj fk ik jk lk el hl il gm hm km lm en gn jn kn fo io jo lo hp ip kp fq gq jq hr jr kr gs is ls ht it iu ju jv kw a6 88 6a 4c 3e 2g 5h 7j 9l 3m 5o 7q 9s bu dw ox pv qt rr sp to vm wk xi vg te qc pa q8 s6 o4 p3 r5 u8 w9 oj ph ql ok ck ah bf",
    "g2 i1 j2 e3 h3 i3 c4 f4 g4 a5 c5 e5 h5 i5 86 a6 d6 e6 g6 77 97 b7 e7 g7 68 98 a8 c8 f8 59 89 a9 c9 e9 4a 6a 9a ca da 3b 5b 8b ab cb 4c 6c 7c bc 3d 5d 8d 9d 4e 7e 8e ae 3f 6f 7f 4g 5g 8g 3h 6h 4i 7i 5j n2 q3 s5 u7 w9 la ob rc ud xe kd ie lf og rh ui xj jh mi pj sk vl 2k 5l 9m cn fo bq es gu ia ha kc kn nn pn jo mo oo ro ko jp mp op qp sp iq kq lq nq pq rq tq jr mr or qr sr ks ls ns ps rs jt mt ot qt ku lu nu pu jv mv ov kw nw lx ky",
    "e1 h1 i1 k1 m1 d2 f2 g2 i2 l2 m2 o2 b3 d3 e3 g3 j3 k3 m3 p3 a4 c4 f4 h4 i4 l4 n4 o4 q4 95 b5 c5 e5 h5 j5 k5 m5 p5 86 a6 d6 f6 g6 i6 l6 n6 o6 r6 97 b7 c7 f7 h7 j7 k7 m7 p7 88 a8 d8 e8 g8 i8 l8 n8 q8 99 b9 e9 h9 i9 k9 n9 p9 ca ea ga ia ja ma oa bb fb hb jb lb nb ec hc ic kc mc fd hd jd ld ge ie je me ff hf kf lf gg ig jg mg hh jh kh gi ii li hj jj lj ik kk hl jl 5b 3d 2f 4h 1j 3l 6n 8p 9r bt dv fx hw ev 7k 9i bg de t8 v9 wb xd ue sc ra sg uh wi qh pj rk tl vm xn ok ln nn pn rn tn jo mo no qo ro to vo ip kp lp op qp sp up lq mq oq pq rq tq kr mr nr qr rr sr ls ns ps qs ts kt mt ot pt rt lu nu pu kv mv ov pv lw nw mx jv iu hs",
    "k1 m2 n2 q3 r4 o3 p4 s4 t5 u6 q5 r6 t7 v8 w9 s6 u8 p6 o5 l4 n6 q7 r8 t9 ua vb m8 o9 qa sb uc la na pb rc td mb oc qd se uf xe kc md oe qf sg le nf pg rh kg mh oi jf ih jj lj nk pl hk jl g2 e4 c6 a8 8b 5d 3f 2h 4j 1l xh vj wl tm vo sq ur ts rl pn f8 hb fe di cc 6l 9l bl dl 5m 7m 8m bm em 4n 6n 9n an cn fn 5o 7o 8o bo do eo go 4p 7p 9p ap cp fp hp 5q 6q 8q bq cq eq gq iq 6r 7r 9r br dr fr hr 7s 8s as cs es gs 8t 9t bt dt ft 9u au cu eu gu bv dv fv cw ew gw dx fx jt ku lr mp kn io",
    "c4 e3 f6 h8 i2 l4 m7 o3 r5 s8 u6 w9 t3 9a 6c 5f 8g ah bj ed gf hh ji kc ma na pe qb sg ve xf ui 3k 4m 7l 8o ak cm eo fn hl jn lm mp ok pn qq rm sp to ux 2p 5s 7r 9t au cv dt ev gs jr lq ks iu hw lw mv nr qo"
];
const bigPoints = [
    "pv", "77 b5 4o", "kv lv kw", "g3 l2 m2 r6", "gi km ln dp fp ho fq hr iq lp mq", "f1 lx", "d1 e1", "gx ix jx ky kx", "rp qr lw",
    "ah kf ar 9s dt ju 5u", "mw", "bc fs mq", "lm 9u bv", "m2 eq fp gq", "f2 g1 j1 hg jf mw", "f1", "h5 g6 i6 j5 f7 h8 g8 ga", "m6 tj qn 2k 4t hr is js ks ls ms ir kr jt lt mt nu ov",
    "d1 e1 g8 j8 ha hb jd hg jg gl im fp hp nr bs eu", "g1 g2 h4 f5 h5 eb jl hn", "h5", "4s 9q as gt gu", "9u bv", "j8 ia id ig gl fp gp jy", "f2 f4 k2 l2 m8 fh ig 7q 7s", "id hf 9m do", "ie kp is it jr ls mr qr kw ow jt",
    "g5 8r cp", "ks ju jw pw", "e1 g1 f2", "gc hd hf ig gi ei fh", "56 q5 r7 ft jx ky", "gp go", "e7 f7 8s", "c1 a4 j4", "k8 nx",
    "ga k8 l8 gt iu", "74 a2 3l br jr os dw cw", "l3 de nv", "9u bu", "d1 ae gf", "qd kk jl jm kn mo jp", "d4 bs oq", "c5 ld lk nn gt", "je ie gi",
    "9x bw", "b2 m1 jb cp nw", "jy", "fa ee cv", "dp", ""
];

const R = 59;
const FONT = "\"Liberation Sans\", Arial, Helvetica, sans-serif";

function decode(str) {
    const pts = [];
    str.split(" ").filter(s => s.length === 2).forEach(s => {
        let x = (parseInt(s[0], 36) - 17) / 17.5;
        let y = (parseInt(s[1], 36) - 17) / 17.5;
        const r = Math.hypot(x, y);
        if (r > 0.97) {
            x *= 0.97 / r;
            y *= 0.97 / r;
        }
        pts.push({ x: x, y: y });
    });
    return pts;
}

function pctLabel(v) {
    return (v === 100 ? "100" : v.toFixed(1)) + "%";
}

function drawArrow(ctx, x1, y1, x2, y2) {
    const a = Math.atan2(y2 - y1, x2 - x1);
    ctx.beginPath();
    ctx.moveTo(x1, y1);
    ctx.lineTo(x2 - 6 * Math.cos(a), y2 - 6 * Math.sin(a));
    ctx.stroke();
    ctx.beginPath();
    ctx.moveTo(x2, y2);
    ctx.lineTo(x2 - 9 * Math.cos(a) + 3.5 * Math.sin(a), y2 - 9 * Math.sin(a) - 3.5 * Math.cos(a));
    ctx.lineTo(x2 - 9 * Math.cos(a) - 3.5 * Math.sin(a), y2 - 9 * Math.sin(a) + 3.5 * Math.cos(a));
    ctx.closePath();
    ctx.fill();
}

const netPlugin = {
    id: "net",
    beforeDatasetsDraw(chart) {
        const { ctx, scales: { x, y } } = chart;
        const cx = x.getPixelForValue(0), cy = y.getPixelForValue(0);
        const r = x.getPixelForValue(1) - cx;
        ctx.save();
        ctx.beginPath();
        ctx.arc(cx, cy, r, 0, Math.PI * 2);
        ctx.fillStyle = "#fff";
        ctx.fill();
        ctx.restore();
    },
    afterDatasetsDraw(chart, args, opts) {
        const { ctx, scales: { x, y } } = chart;
        const cx = x.getPixelForValue(0), cy = y.getPixelForValue(0);
        const r = x.getPixelForValue(1) - cx;
        const i = opts.idx;
        ctx.save();
        ctx.beginPath();
        ctx.arc(cx, cy, r, 0, Math.PI * 2);
        ctx.lineWidth = 1;
        ctx.strokeStyle = "#1a1a1a";
        ctx.stroke();

        ctx.fillStyle = "#262626";
        ctx.textAlign = "center";
        ctx.textBaseline = "middle";
        ctx.font = "11px " + FONT;
        ctx.fillText(mIndex[i].toFixed(2), cx - 53, cy - 58);
        ctx.fillText(pctLabel(percentRecryst[i]), cx + 53, cy - 58);
        ctx.fillText(mapNumbers[i], cx - 52, cy + 57);
        ctx.font = "italic 11px " + FONT;
        ctx.fillText("n = " + neoblasts[i], cx + 57, cy + 57);

        if (opts.legend) {
            ctx.beginPath();
            ctx.moveTo(cx - r, cy);
            ctx.lineTo(cx + r, cy);
            ctx.lineWidth = 1.5;
            ctx.strokeStyle = "#111";
            ctx.stroke();

            ctx.fillStyle = "#1a1a1a";
            ctx.font = "bold 17px " + FONT;
            ctx.fillText("Z", cx - 1, cy - 68);
            ctx.fillText("X", cx + 67, cy + 1);

            ctx.font = "16px " + FONT;
            ctx.fillText("M-index", cx - 137, cy - 42);
            ctx.fillText("Percent", cx + 150, cy - 50);
            ctx.fillText("recrystallized", cx + 150, cy - 31);
            ctx.fillText("EBSD map", cx - 138, cy + 25);
            ctx.fillText("number", cx - 138, cy + 44);
            ctx.fillText("Number of", cx + 149, cy + 25);
            ctx.fillText("neoblasts", cx + 149, cy + 44);

            ctx.lineWidth = 1.2;
            ctx.strokeStyle = "#1a1a1a";
            drawArrow(ctx, cx - 100, cy - 41, cx - 68, cy - 52);
            drawArrow(ctx, cx + 118, cy - 42, cx + 74, cy - 52);
            drawArrow(ctx, cx - 98, cy + 41, cx - 67, cy + 52);
            drawArrow(ctx, cx + 112, cy + 38, cx + 83, cy + 51);
        }
        ctx.restore();
    }
};

function addNet(page, left, top, w, h, cx, cy, idx, legend) {
    const canvas = document.createElement("canvas");
    canvas.width = w;
    canvas.height = h;
    canvas.style.left = left + "px";
    canvas.style.top = top + "px";
    page.appendChild(canvas);
    const ox = cx - left, oy = cy - top;
    new Chart(canvas.getContext("2d"), {
        type: "scatter",
        data: {
            datasets: [{
                data: decode(bigPoints[idx]),
                pointRadius: 4.6,
                backgroundColor: "#7f7f7f",
                borderColor: "#1e1e1e",
                borderWidth: 1
            }, {
                data: decode(grayPoints[idx]),
                pointRadius: 1.7,
                backgroundColor: "#aaaaaa",
                borderWidth: 0
            }]
        },
        options: {
            responsive: false,
            animation: false,
            events: [],
            layout: { padding: 0 },
            plugins: {
                legend: { display: false },
                tooltip: { enabled: false },
                net: { idx: idx, legend: legend }
            },
            scales: {
                x: { type: "linear", display: false, min: -ox / R, max: (w - ox) / R },
                y: { type: "linear", display: false, reverse: true, min: -oy / R, max: (h - oy) / R }
            }
        },
        plugins: [netPlugin]
    });
}

document.addEventListener("DOMContentLoaded", () => {
    const page = document.getElementById("page");
    const box = document.getElementById("legend-box");

    // light grey background on every other column
    for (let c = 0; c < 9; c += 2) {
        const s = document.createElement("div");
        s.className = "stripe";
        s.style.left = (6 + 151.3 * c) + "px";
        page.insertBefore(s, box);
    }

    mapNumbers.forEach((m, i) => {
        const col = i % 9, row = Math.floor(i / 9);
        const cx = 77 + 150.9 * col;
        const cy = 85 + 168.3 * row;
        const left = Math.round(cx - 71), top = Math.round(cy - 84);
        addNet(page, left, top, 151, 168, cx, cy, i, false);
    });

    // explanation panel reuses the net of map 172
    addNet(page, 916, 844, 449, 161, 1134, 926.5, mapNumbers.indexOf("172"), true);
});
</script>
</body>
</html>
